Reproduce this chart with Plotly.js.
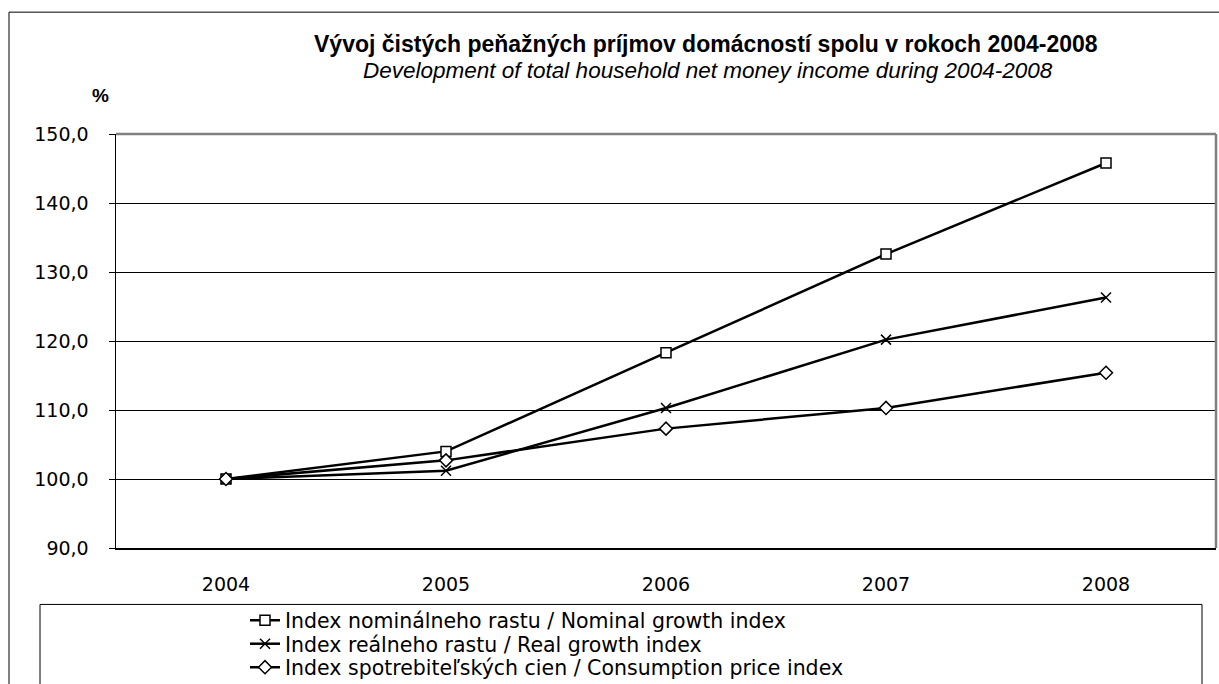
<!DOCTYPE html>
<html>
<head>
<meta charset="utf-8">
<script src="https://cdn.plot.ly/plotly-3.0.1.min.js"></script>
<style>
html,body{margin:0;padding:0;background:#fff;}
#chart{width:1219px;height:684px;}
</style>
</head>
<body>
<div id="chart"></div>
<script>
const years = ['2004', '2005', '2006', '2007', '2008'];
const nominal = [100.0, 104.0, 118.3, 132.6, 145.8];
const real = [100.0, 101.2, 110.3, 120.2, 126.3];
const cpi = [100.0, 102.7, 107.3, 110.3, 115.4];
const seriesNames = [
  'Index nominálneho rastu / Nominal growth index',
  'Index reálneho rastu / Real growth index',
  'Index spotrebiteľských cien / Consumption price index'
];
const titleMain = 'Vývoj čistých peňažných príjmov domácností spolu v rokoch 2004-2008';
const titleSub = 'Development of total household net money income during 2004-2008';
const yUnit = '%';

const FONT = 'Liberation Sans, Arial, sans-serif';
const WIDEFONT = 'DejaVu Sans, Liberation Sans, sans-serif';

// pixel helpers for paper coordinates (plot area 116..1216 x 134..548.5)
const PL = 116, PW = 1100, PB = 548.5, PH = 414.5;
const px = v => (v - PL) / PW;
const py = v => (PB - v) / PH;

const lineStyle = {color: '#000000', width: 2.5};
const traces = [
  {x: years, y: nominal, name: seriesNames[0], type: 'scatter', mode: 'lines+markers',
   line: lineStyle, legend: 'legend',
   marker: {symbol: 'square', size: 10, color: '#ffffff', line: {color: '#000000', width: 1.5}}},
  {x: years, y: real, name: seriesNames[1], type: 'scatter', mode: 'lines+markers',
   line: lineStyle, legend: 'legend2',
   marker: {symbol: 'x-thin', size: 10, color: '#000000', line: {color: '#000000', width: 1.5}}},
  {x: years, y: cpi, name: seriesNames[2], type: 'scatter', mode: 'lines+markers',
   line: lineStyle, legend: 'legend3',
   marker: {symbol: 'diamond', size: 10, color: '#ffffff', line: {color: '#000000', width: 1.5}}}
];

const legendBase = (rowY) => ({
  x: px(245), y: py(rowY), xanchor: 'left', yanchor: 'middle',
  bgcolor: 'rgba(0,0,0,0)', borderwidth: 0,
  font: {family: WIDEFONT, size: 20.5, color: '#000000'}
});

const layout = {
  width: 1219, height: 684,
  paper_bgcolor: '#ffffff', plot_bgcolor: '#ffffff',
  margin: {l: 116, r: 3, t: 134, b: 135.5, autoexpand: false},
  separators: ',.',
  font: {family: FONT, color: '#000000', size: 18},
  showlegend: true,
  xaxis: {
    type: 'category', range: [-0.5, 4.5],
    showline: true, linecolor: '#000000', linewidth: 1.5,
    showgrid: false, zeroline: false, ticks: '',
    ticklabelstandoff: 19,
    tickfont: {family: WIDEFONT, size: 19, color: '#000000'},
    fixedrange: true
  },
  yaxis: {
    range: [90, 150], dtick: 10, tick0: 90, tickformat: '.1f',
    showline: true, linecolor: '#000000', linewidth: 1.5,
    showgrid: true, gridcolor: '#000000', gridwidth: 1,
    zeroline: false, ticks: 'outside', ticklen: 6, tickcolor: '#000000',
    ticklabelstandoff: 16,
    tickfont: {family: WIDEFONT, size: 19, color: '#000000'},
    fixedrange: true
  },
  legend: legendBase(621),
  legend2: legendBase(644.5),
  legend3: legendBase(668),
  annotations: [
    {text: '<b>' + titleMain + '</b>', xref: 'paper', yref: 'paper', x: px(706), y: py(44),
     xanchor: 'center', yanchor: 'middle', showarrow: false,
     font: {family: FONT, size: 23, color: '#000000'}},
    {text: '<i>' + titleSub + '</i>', xref: 'paper', yref: 'paper', x: px(707.5), y: py(70),
     xanchor: 'center', yanchor: 'middle', showarrow: false,
     font: {family: FONT, size: 22.5, color: '#000000'}},
    {text: '<b>' + yUnit + '</b>', xref: 'paper', yref: 'paper', x: px(100), y: py(95),
     xanchor: 'center', yanchor: 'middle', showarrow: false,
     font: {family: FONT, size: 19, color: '#000000'}}
  ],
  shapes: [
    {type: 'rect', xref: 'paper', yref: 'paper', x0: px(9), x1: px(1235), y0: py(720), y1: py(12),
     line: {color: '#000000', width: 1}, fillcolor: 'rgba(0,0,0,0)', layer: 'below'},
    {type: 'rect', xref: 'paper', yref: 'paper', x0: px(40), x1: px(1202), y0: py(720), y1: py(605),
     line: {color: '#000000', width: 1}, fillcolor: 'rgba(0,0,0,0)'},
    {type: 'line', xref: 'paper', yref: 'paper', x0: 0, x1: 1, y0: 1, y1: 1,
     line: {color: '#808080', width: 2.5}},
    {type: 'line', xref: 'paper', yref: 'paper', x0: 1, x1: 1, y0: 0, y1: 1,
     line: {color: '#808080', width: 2.5}}
  ]
};

Plotly.newPlot('chart', traces, layout, {displayModeBar: false, staticPlot: true});
</script>
</body>
</html>
